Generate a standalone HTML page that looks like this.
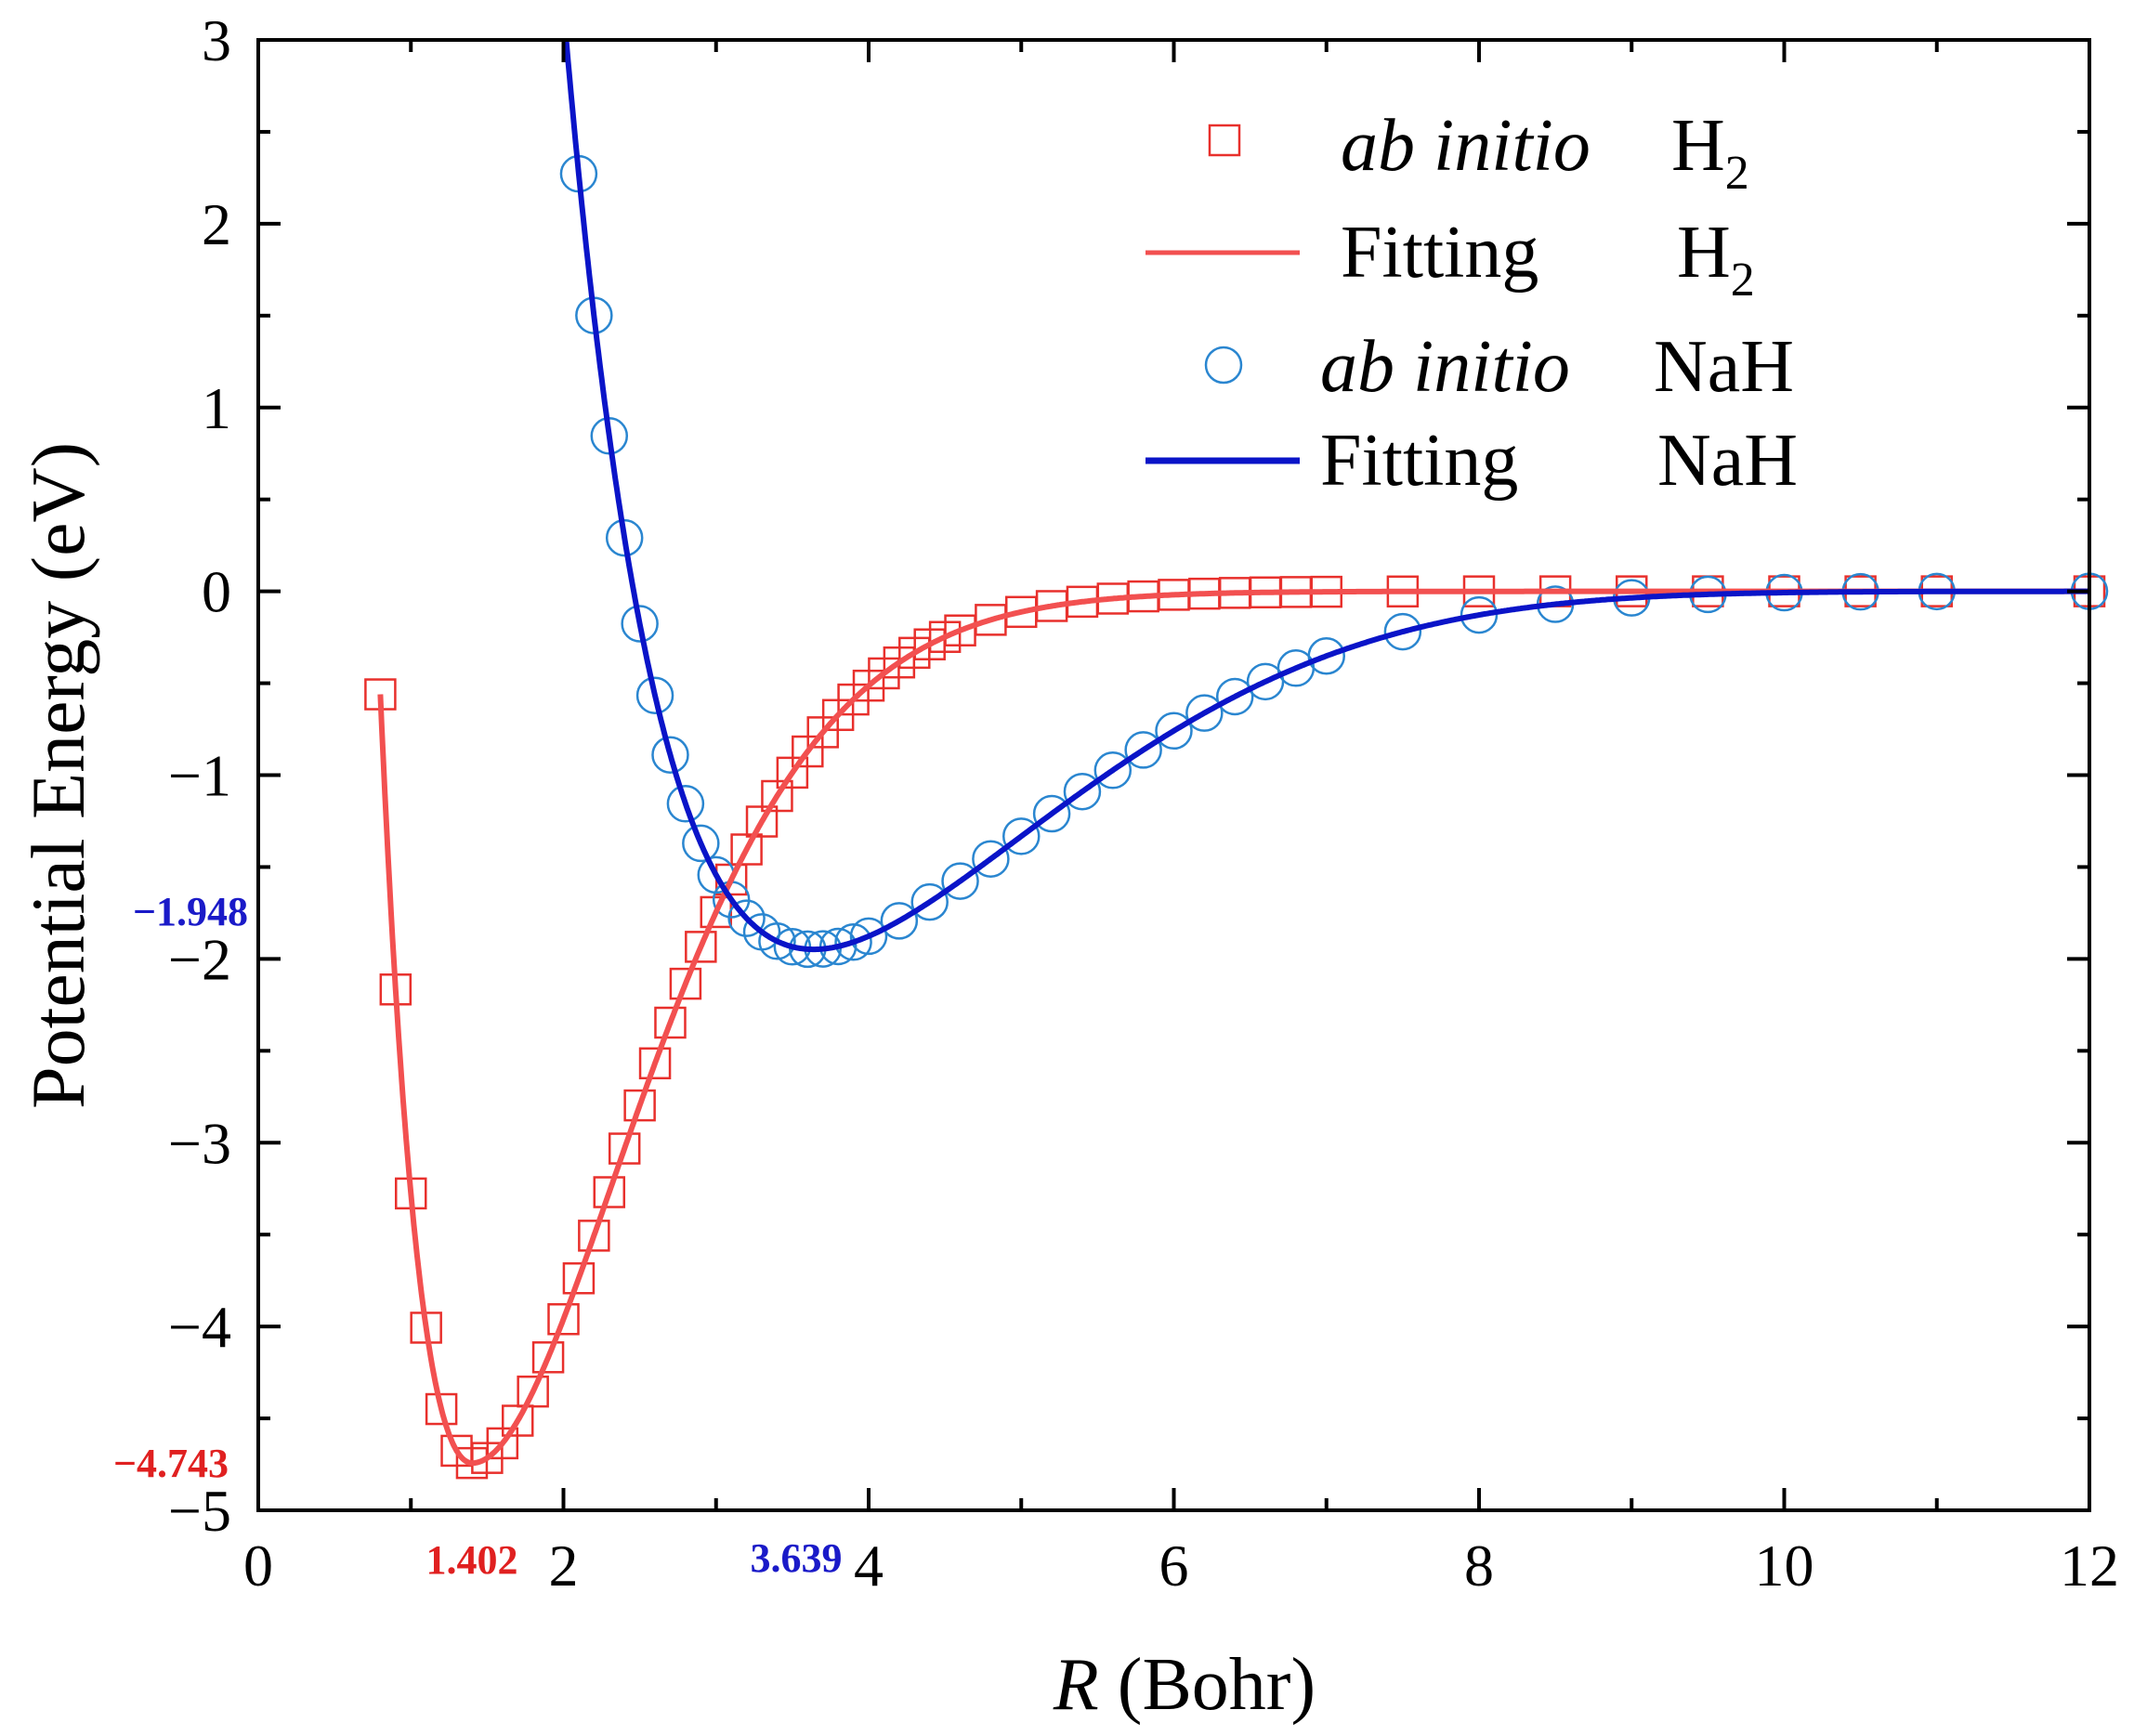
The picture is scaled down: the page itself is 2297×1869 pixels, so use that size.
<!DOCTYPE html>
<html><head><meta charset="utf-8"><style>
html,body{margin:0;padding:0;background:#fff}
svg text{font-family:"Liberation Serif",serif}
</style></head><body>
<svg id="s" width="2297" height="1864" xmlns="http://www.w3.org/2000/svg"></svg>
<script>
const s=document.getElementById('s');
const X0=278,X1=2249,Y0=43,Y1=1626;
const px=r=>X0+r*(X1-X0)/12, py=v=>Y0+(3-v)*(Y1-Y0)/8;
let h='';
const morse=(R,De,Re,a)=>{const x=Math.exp(-a*(R-Re));return De*((1-x)*(1-x)-1);};
const H=R=>morse(R,4.743,1.402,R<1.402?1.1:0.8+0.12*(R-1.402));
const N=R=>morse(R,1.948,3.639,R<3.639?0.588:0.588+0.01*(R-3.639)*(R-3.639));
h+='<defs><clipPath id="c"><rect x="'+X0+'" y="'+Y0+'" width="'+(X1-X0)+'" height="'+(Y1-Y0)+'"/></clipPath></defs>';
let hr=[];for(let r=0.8;r<=4.51;r+=0.1)hr.push(r);for(let r=4.6;r<=7.01;r+=0.2)hr.push(r);
[7.5,8,8.5,9,9.5,10,10.5,11,12].forEach(r=>hr.push(r));
hr.forEach(r=>{h+='<rect x="'+(px(r)-16)+'" y="'+(py(H(r))-16)+'" width="32" height="32" fill="none" stroke="#e8302c" stroke-width="2.5"/>';});
let nr=[];for(let r=2.1;r<=4.01;r+=0.1)nr.push(r);for(let r=4.2;r<=7.01;r+=0.2)nr.push(r);
[7.5,8,8.5,9,9.5,10,10.5,11,12].forEach(r=>nr.push(r));
nr.forEach(r=>{const y=py(N(r));if(y>Y0)h+='<circle cx="'+px(r)+'" cy="'+y+'" r="19" fill="none" stroke="#2a86d0" stroke-width="2.5"/>';});
let p='';for(let r=0.8;r<=12;r+=0.01)p+=(p?'L':'M')+px(r).toFixed(1)+' '+py(H(r)).toFixed(1);
h+='<path d="'+p+'" fill="none" stroke="#f25050" stroke-width="6" clip-path="url(#c)"/>';
p='';for(let r=1.9;r<=12;r+=0.01)p+=(p?'L':'M')+px(r).toFixed(1)+' '+py(N(r)).toFixed(1);
h+='<path d="'+p+'" fill="none" stroke="#0a14c8" stroke-width="6" clip-path="url(#c)"/>';
h+='<rect x="'+X0+'" y="'+Y0+'" width="'+(X1-X0)+'" height="'+(Y1-Y0)+'" fill="none" stroke="#000" stroke-width="4"/>';
for(let i=0;i<=12;i++){const x=px(i),L=i%2?13:24;h+='<line x1="'+x+'" y1="'+Y1+'" x2="'+x+'" y2="'+(Y1-L)+'" stroke="#000" stroke-width="4"/><line x1="'+x+'" y1="'+Y0+'" x2="'+x+'" y2="'+(Y0+L)+'" stroke="#000" stroke-width="4"/>';
 if(i%2==0)h+='<text x="'+x+'" y="1707" font-size="64" text-anchor="middle">'+i+'</text>';}
for(let k=0;k<=16;k++){const v=3-k*0.5,y=py(v),L=k%2?13:24;h+='<line x1="'+X0+'" y1="'+y+'" x2="'+(X0+L)+'" y2="'+y+'" stroke="#000" stroke-width="4"/><line x1="'+X1+'" y1="'+y+'" x2="'+(X1-L)+'" y2="'+y+'" stroke="#000" stroke-width="4"/>';
 if(k%2==0)h+='<text x="249" y="'+(y+22)+'" font-size="64" text-anchor="end">'+(v<0?'\u2212'+(-v):v)+'</text>';}
h+='<text x="267" y="996" font-size="44" font-weight="bold" fill="#1a1ac8" text-anchor="end">\u22121.948</text>';
h+='<text x="246" y="1590" font-size="44" font-weight="bold" fill="#e02020" text-anchor="end">\u22124.743</text>';
h+='<text x="508" y="1694" font-size="44" font-weight="bold" fill="#e02020" text-anchor="middle">1.402</text>';
h+='<text x="857" y="1692" font-size="44" font-weight="bold" fill="#1a1ac8" text-anchor="middle">3.639</text>';
h+='<text x="1275" y="1840" font-size="80" text-anchor="middle"><tspan font-style="italic">R</tspan> (Bohr)</text>';
h+='<text transform="translate(90,835) rotate(-90)" font-size="82" text-anchor="middle">Potential Energy (eV)</text>';
h+='<rect x="1302" y="135" width="32" height="32" fill="none" stroke="#e8302c" stroke-width="2.5"/>';
h+='<text x="1443" y="183" font-size="80" font-style="italic">ab initio</text><text x="1799" y="183" font-size="80">H<tspan font-size="52" dy="20">2</tspan></text>';
h+='<line x1="1233" y1="272" x2="1399" y2="272" stroke="#f25050" stroke-width="5"/>';
h+='<text x="1443" y="298" font-size="80">Fitting</text><text x="1805" y="298" font-size="80">H<tspan font-size="52" dy="20">2</tspan></text>';
h+='<circle cx="1317" cy="393" r="19" fill="none" stroke="#2a86d0" stroke-width="2.5"/>';
h+='<text x="1421" y="421" font-size="80" font-style="italic">ab initio</text><text x="1780" y="421" font-size="80">NaH</text>';
h+='<line x1="1233" y1="496" x2="1399" y2="496" stroke="#0a14c8" stroke-width="7"/>';
h+='<text x="1421" y="522" font-size="80">Fitting</text><text x="1784" y="522" font-size="80">NaH</text>';
s.innerHTML=h;
</script>
</body></html>
